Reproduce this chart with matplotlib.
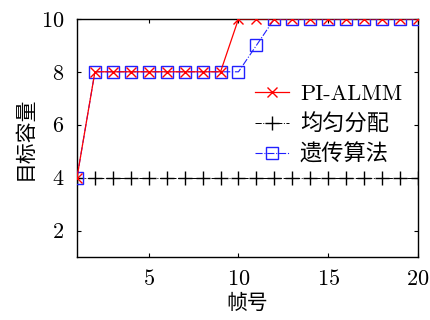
import matplotlib
matplotlib.use("Agg")
import matplotlib.pyplot as plt

frames = list(range(1, 21))
pi_almm = [4, 8, 8, 8, 8, 8, 8, 8, 8, 10, 10, 10, 10, 10, 10, 10, 10, 10, 10, 10]
equal = [4] * 20
ga = [4, 8, 8, 8, 8, 8, 8, 8, 8, 8, 9, 10, 10, 10, 10, 10, 10, 10, 10, 10]
labels = ["PI-ALMM", "均匀分配", "遗传算法"]
xticks = [5, 10, 15, 20]
yticks = [2, 4, 6, 8, 10]

plt.rcParams['font.family'] = ['cmr10', 'Noto Sans CJK SC']
plt.rcParams['mathtext.fontset'] = 'cm'
plt.rcParams['axes.formatter.use_mathtext'] = True

fig = plt.figure(figsize=(4.3, 3.2), dpi=100)
ax = fig.add_axes([0.179, 0.197, 0.793, 0.744])

ax.plot(frames, equal, color='black', linestyle='-.', linewidth=0.7,
        marker='+', markersize=10, markeredgewidth=1.0, label=labels[1], zorder=2)
ax.plot(frames, ga, color='#2020ff', linestyle='-.', linewidth=0.8,
        marker='s', markersize=9, markerfacecolor='none', markeredgewidth=1.0,
        label=labels[2], zorder=3)
ax.plot(frames, pi_almm, color='#ff0000', linestyle='-', linewidth=0.9,
        marker='x', markersize=7, markeredgewidth=1.0, label=labels[0], zorder=4)

ax.set_xlim(1, 20)
ax.set_ylim(1, 10)
ax.set_xticks(xticks)
ax.set_yticks(yticks)
ax.tick_params(direction='in', top=True, right=True, labelsize=16, length=3, width=0.8, pad=9)
for s in ax.spines.values():
    s.set_linewidth(1.0)
ax.set_xlabel("帧号", fontsize=15, family=['Noto Sans CJK SC'], labelpad=2)
ax.set_ylabel("目标容量", fontsize=15, family=['Noto Sans CJK SC'], labelpad=4)

h, l = ax.get_legend_handles_labels()
order = [2, 0, 1]
leg = ax.legend([h[i] for i in order], [l[i] for i in order], loc='center right',
                bbox_to_anchor=(1.012, 0.556), frameon=False,
                handlelength=1.5, handletextpad=0.5, labelspacing=0.42,
                prop={'family': ['cmr10', 'Noto Sans CJK SC'], 'size': 16})

fig.savefig("out.png", dpi=100)
